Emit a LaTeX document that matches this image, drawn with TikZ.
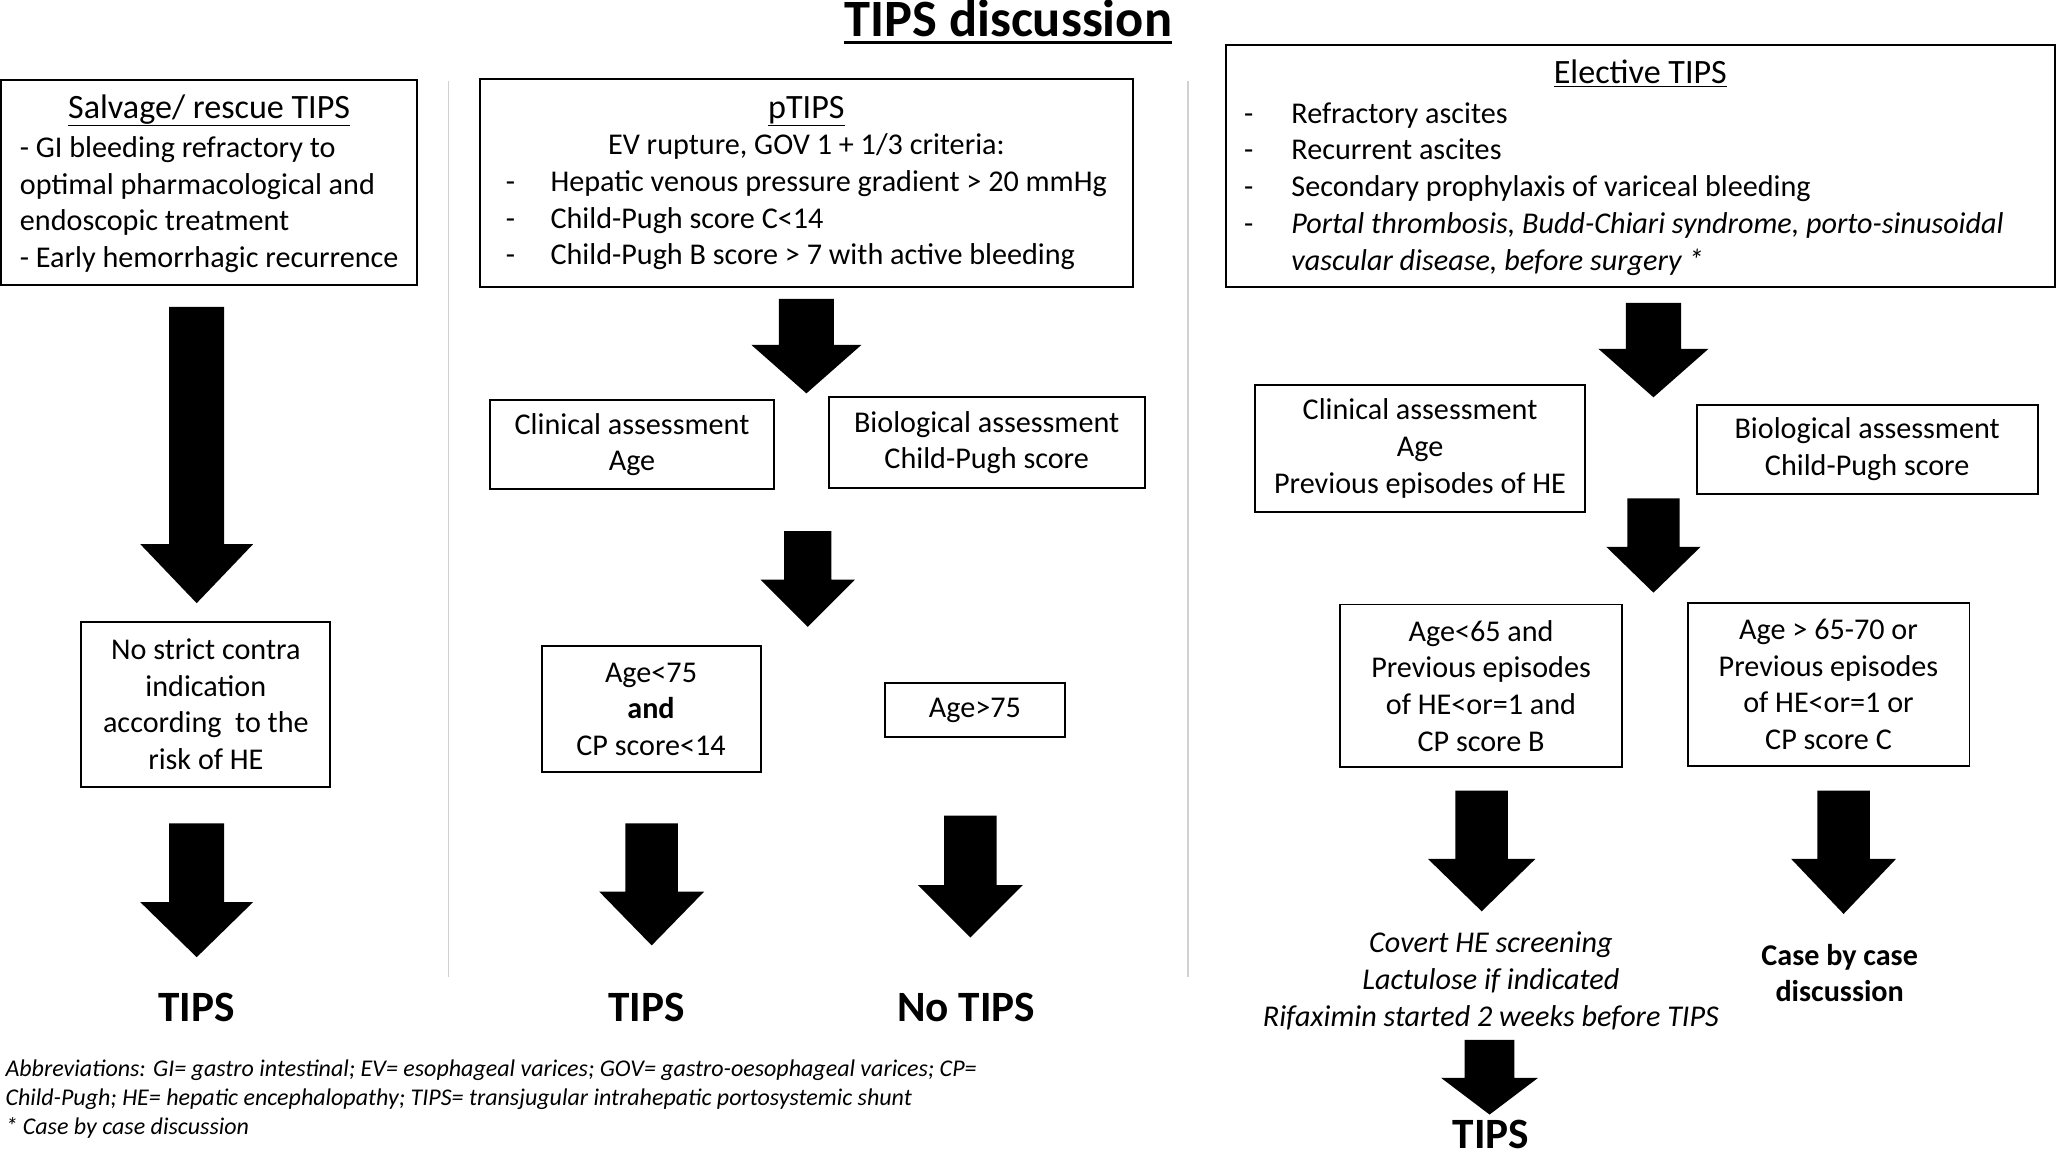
\documentclass[tikz,border=0pt]{standalone}
\usepackage{fontspec}
\setmainfont{Carlito}
\usepackage{xcolor}

\begin{document}
\begin{tikzpicture}[x=1pt,y=-1pt,
		box/.style={draw,line width=1.5pt,inner sep=0pt,align=center,font=\fontsize{23}{28}\selectfont},
		head/.style={font=\fontsize{26}{30}\selectfont},
		txt/.style={inner sep=0pt,align=center,font=\fontsize{23}{28}\selectfont},
		big/.style={inner sep=0pt,font=\fontsize{33}{40}\selectfont\bfseries}]
		\useasboundingbox (0,0) rectangle (1568,876);
		\draw[black!18,line width=1pt] (342,62) -- (342,745) (906,62) -- (906,745);
		\node[inner sep=0pt,font=\fontsize{40}{48}\selectfont\bfseries] (title) at (769,14) {TIPS discussion};
		\draw[line width=2.5pt] ([yshift=-4pt]title.south west) -- ([yshift=-4pt]title.south east);
		% top boxes
		\node[box,minimum width=317,minimum height=156,text height=29,text depth=127] (salvage) at (159.5,139) {\begin{tabular}[t]{@{}l@{}}
				\multicolumn{1}{c}{\fontsize{26}{30}\selectfont\underline{Salvage/ rescue TIPS}}\\[2pt]
				- GI bleeding refractory to\\
				optimal pharmacological and\\
				endoscopic treatment\\
				- Early hemorrhagic recurrence
			\end{tabular}};
		\node[box,minimum width=498,minimum height=159,text height=30,text depth=129] (ptips) at (615,139.5) {\begin{tabular}[t]{@{}p{34pt}@{}l@{}}
				\multicolumn{2}{c}{\fontsize{26}{30}\selectfont\underline{pTIPS}}\\
				\multicolumn{2}{c}{EV rupture, GOV 1 + 1/3 criteria:}\\
				- & Hepatic venous pressure gradient > 20 mmHg\\
				- & Child-Pugh score C<14\\
				- & Child-Pugh B score > 7 with active bleeding
			\end{tabular}};
		\node[box,minimum width=632,minimum height=185,text height=30,text depth=155] (elective) at (1251,126.5) {\begin{tabular}[t]{@{}p{36pt}@{}l@{\hspace{25pt}}}
				\multicolumn{2}{@{}c@{}}{\fontsize{26}{30}\selectfont\underline{Elective TIPS}}\\[2pt]
				- & Refractory ascites\\
				- & Recurrent ascites\\
				- & Secondary prophylaxis of variceal bleeding\\
				- & \textit{Portal thrombosis, Budd-Chiari syndrome, porto-sinusoidal}\\
				& \textit{vascular disease, before surgery *}
			\end{tabular}};
		% salvage column
		\node[box,minimum width=190,minimum height=126] (norisk) at (157,537) {No strict contra\\ indication\\ according\ \ to the\\ risk of HE};
		\node[big] (tips-1) at (150,768) {TIPS};
		% pTIPS column
		\node[box,minimum width=216,minimum height=68] (clin-1) at (482,339) {Clinical assessment\\ Age};
		\node[box,minimum width=241,minimum height=69] (bio-1) at (752.5,337.5) {Biological assessment\\ Child-Pugh score};
		\node[box,minimum width=167,minimum height=96] (young) at (496.5,541) {Age<75\\ \textbf{and}\\ CP score<14};
		\node[box,minimum width=137,minimum height=41] (old) at (743.5,541.5) {Age>75};
		\node[big] (tips-2) at (493,768) {TIPS};
		\node[big] (notips) at (737,768) {No TIPS};
		% elective column
		\node[box,minimum width=252,minimum height=97] (clin-2) at (1083,342) {Clinical assessment\\ Age\\ Previous episodes of HE};
		\node[box,minimum width=260,minimum height=68] (bio-2) at (1424,342.5) {Biological assessment\\ Child-Pugh score};
		\node[box,minimum width=215,minimum height=124] (mild) at (1129.5,523) {Age<65 and\\ Previous episodes\\ of HE<or=1 and\\ CP score B};
		\node[box,minimum width=215,minimum height=124] (severe) at (1394.5,522) {Age > 65-70 or\\ Previous episodes\\ of HE<or=1 or\\ CP score C};
		\node[txt,font=\fontsize{23}{28}\selectfont\itshape] (prep) at (1137,748) {Covert HE screening\\ Lactulose if indicated\\ Rifaximin started 2 weeks before TIPS};
		\node[txt,font=\fontsize{23}{28}\selectfont\bfseries] (case) at (1403,742) {Case by case\\ discussion};
		\node[big] (tips-3) at (1137,865) {TIPS};
		% block arrows
		\foreach \x/\ya/\yb/\yc/\w/\h in {150/234/415/460/21/43, 150/628/688/730/21/43,
				615/228/263/300/21/42, 616/405/442/478/18/36, 497/628/680/721/20/40, 740/622/675/715/20/40,
				1261/231/266/303/21/42, 1261/380/417/452/20/36, 1130/603/655/695/20/41, 1406/603/655/697/20/40,
				1136/793/822/850/19/37}
			{
				\fill (\x-\w,\ya) -- (\x+\w,\ya) -- (\x+\w,\yb) -- (\x+\h,\yb) -- (\x,\yc) -- (\x-\h,\yb) -- (\x-\w,\yb) -- cycle;
			}
		\node[inner sep=0pt,anchor=west,align=left,font=\fontsize{18.3}{22}\selectfont\itshape] (abbr) at (4,838) {Abbreviations: GI= gastro intestinal; EV= esophageal varices; GOV= gastro-oesophageal varices; CP=\\
			Child-Pugh; HE= hepatic encephalopathy; TIPS= transjugular intrahepatic portosystemic shunt\\
			* Case by case discussion};
	\end{tikzpicture}
\end{document}
